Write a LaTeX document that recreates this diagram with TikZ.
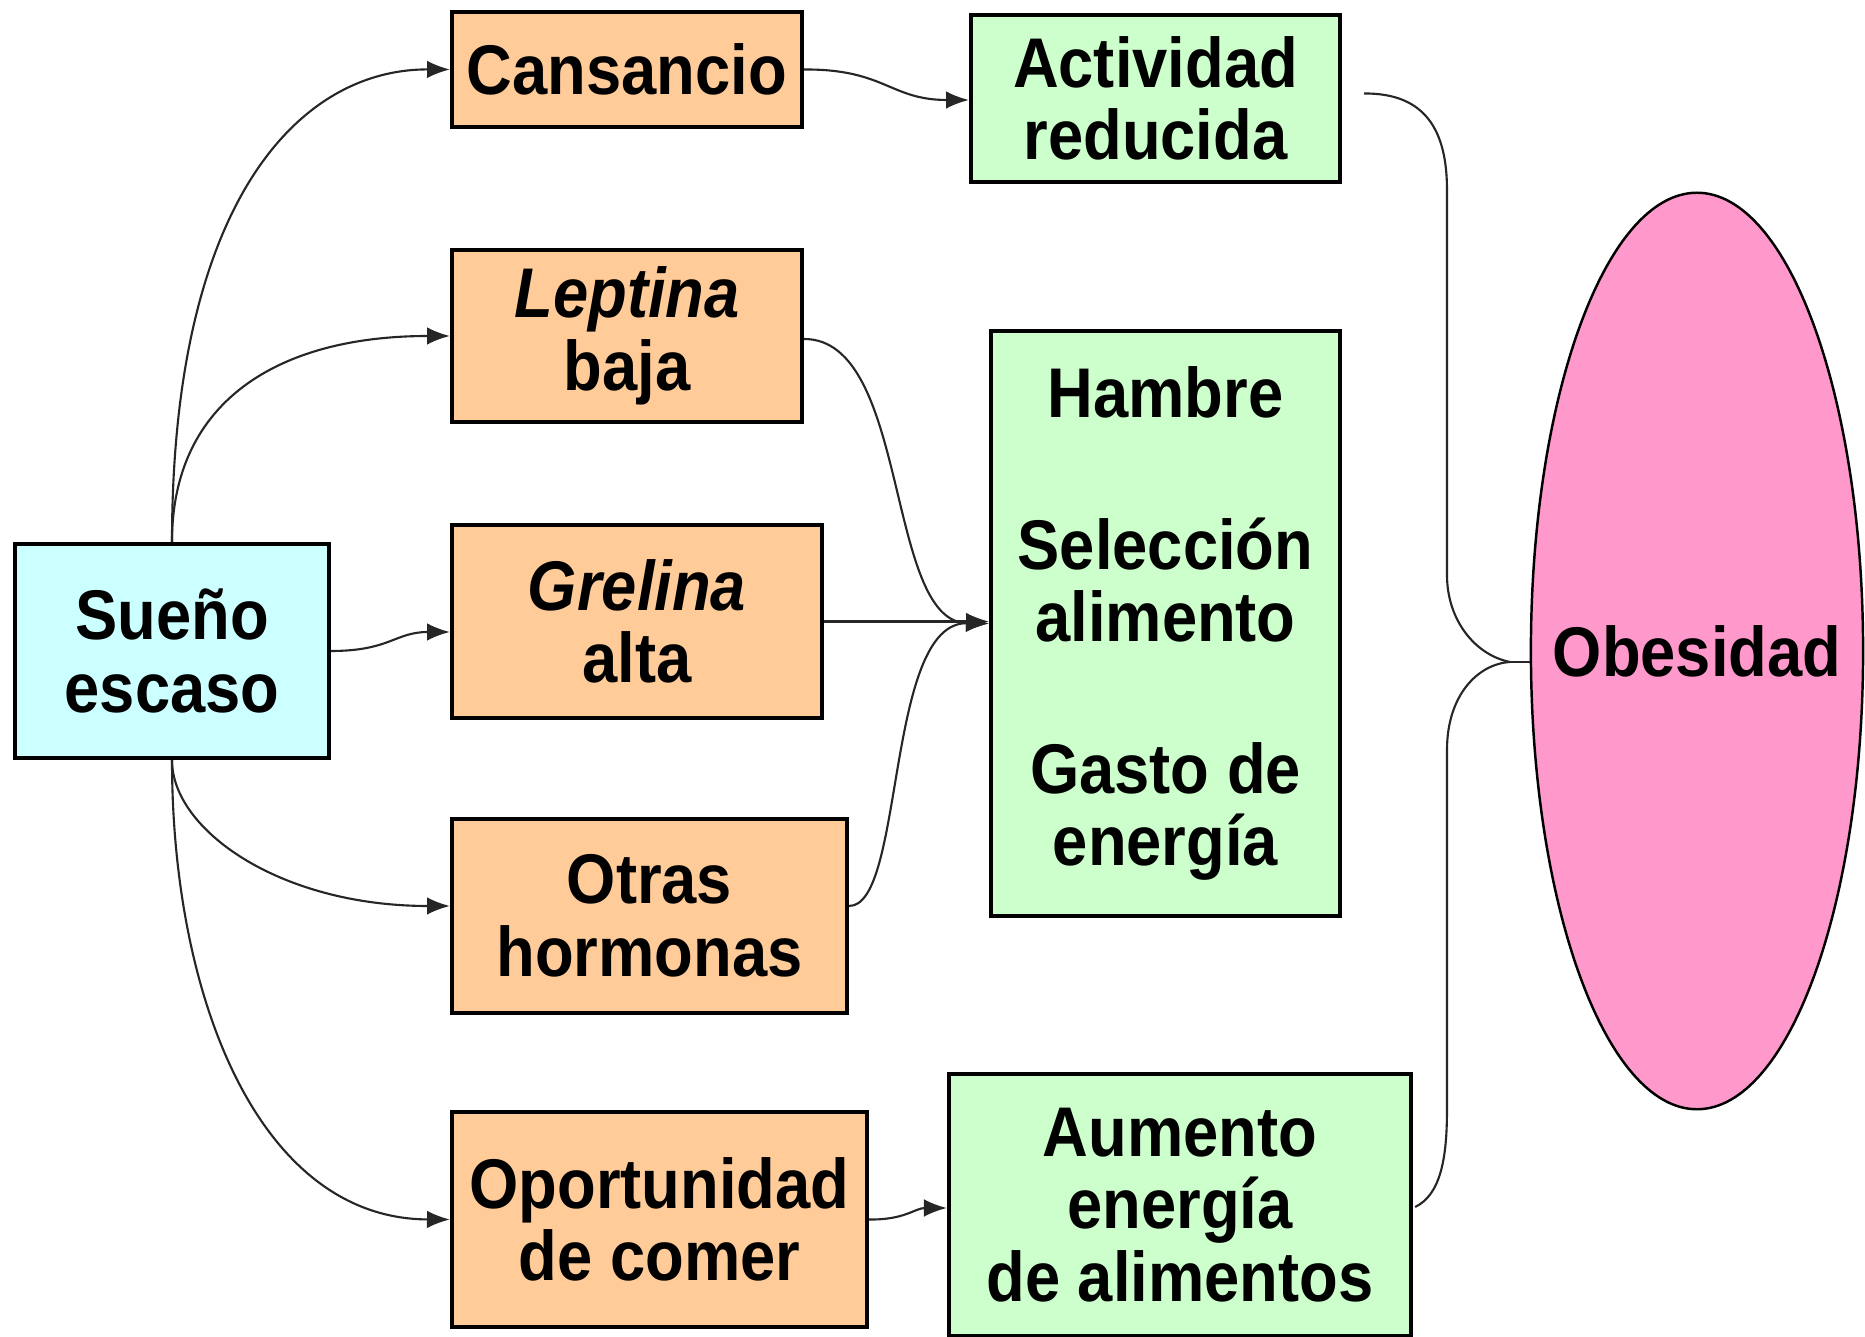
\documentclass[tikz,border=0pt]{standalone}
\usepackage{fontspec}
\setmainfont{Liberation Sans}[FakeStretch=0.9]
\usetikzlibrary{arrows.meta,shapes.geometric,calc}
\definecolor{cyanf}{HTML}{CCFFFF}
\definecolor{orangef}{HTML}{FFCC99}
\definecolor{greenf}{HTML}{CCFFCC}
\definecolor{pinkf}{HTML}{FF99CC}
\begin{document}
\begin{tikzpicture}[x=0.01cm,y=-0.01cm,
  txt/.style={font=\fontsize{20}{20.6}\selectfont\bfseries,align=center},
  box/.style={txt,draw=black,line width=1.15pt,inner sep=0pt},
  conn/.style={line width=0.6pt,draw=black!85},
  arr/.style={conn,-{Latex[length=6.5pt,width=5pt]}}]
\useasboundingbox (0,0) rectangle (1865,1337);
\fill[white] (0,0) rectangle (1865,1337);

\node[box,fill=cyanf,minimum width=3.14cm,minimum height=2.14cm] (sueno) at (172,651) {Sueño\\escaso};
\node[box,fill=orangef,minimum width=3.5cm,minimum height=1.15cm] (cans) at (627,69.5) {Cansancio};
\node[box,fill=orangef,minimum width=3.5cm,minimum height=1.72cm] (lept) at (627,336) {\textit{Leptina}\\baja};
\node[box,fill=orangef,minimum width=3.7cm,minimum height=1.93cm] (grel) at (637,621.5) {\textit{Grelina}\\alta};
\node[box,fill=orangef,minimum width=3.95cm,minimum height=1.94cm] (otras) at (649.5,916) {Otras\\hormonas};
\node[box,fill=orangef,minimum width=4.15cm,minimum height=2.15cm] (oport) at (659.5,1219.5) {Oportunidad\\de comer};
\node[box,fill=greenf,minimum width=3.69cm,minimum height=1.67cm] (activ) at (1155.5,98.5) {Actividad\\reducida};
\node[box,fill=greenf,minimum width=3.49cm,minimum height=5.85cm] (hambre) at (1165.5,623.5) {Hambre\\[22.6pt]Selección\\alimento\\[22.6pt]Gasto de\\energía};
\node[box,fill=greenf,minimum width=4.62cm,minimum height=2.62cm] (aum) at (1180,1205) {Aumento\\energía\\de alimentos};
\node[ellipse,draw=black,line width=0.7pt,fill=pinkf,inner sep=0pt,minimum width=3.32cm,minimum height=9.16cm] (obes) at (1697,651) {};
\node[txt] (obestxt) at (obes.center) {Obesidad};

\draw[arr] (sueno.north) .. controls (172,200) and (300,69) .. (cans.west);
\draw[arr] (sueno.north) .. controls (172,400) and (280,336) .. (lept.west);
\draw[arr] (sueno.east) .. controls (390,651) and (395,632) .. ($(grel.west)+(0,10.5)$);
\draw[arr] (sueno.south) .. controls (172,830) and (280,906) .. ($(otras.west)+(0,-10)$);
\draw[arr] (sueno.south) .. controls (172,1000) and (260,1219) .. (oport.west);
\draw[arr] (cans.east) .. controls (885,69) and (890,100) .. ($(activ.west)+(0,1.5)$);
\draw[arr] ($(lept.east)+(0,3)$) .. controls (910,339) and (885,622) .. (hambre.west);
\draw[arr] (grel.east) -- (grel.east -| hambre.west);
\draw[arr] ($(otras.east)+(0,-10)$) .. controls (905,906) and (885,622) .. (hambre.west);
\draw[arr] (oport.east) .. controls (905,1220) and (915,1208) .. ($(aum.west)+(0,3)$);

\coordinate (join) at (1510,662);
\coordinate (bstart) at ($(activ.east)+(22,-5)$);
\draw[conn] (bstart) .. controls (1425,93) and (1447,130) .. (1447,190) -- (1447,575)
  .. controls (1447,620) and (1475,655) .. (join);
\draw[conn] ($(aum.east)+(2,2)$) .. controls (1440,1195) and (1447,1160) .. (1447,1110) -- (1447,750)
  .. controls (1447,695) and (1478,664) .. (join);
\draw[conn] (join) -- (join -| obes.west);
\end{tikzpicture}
\end{document}
